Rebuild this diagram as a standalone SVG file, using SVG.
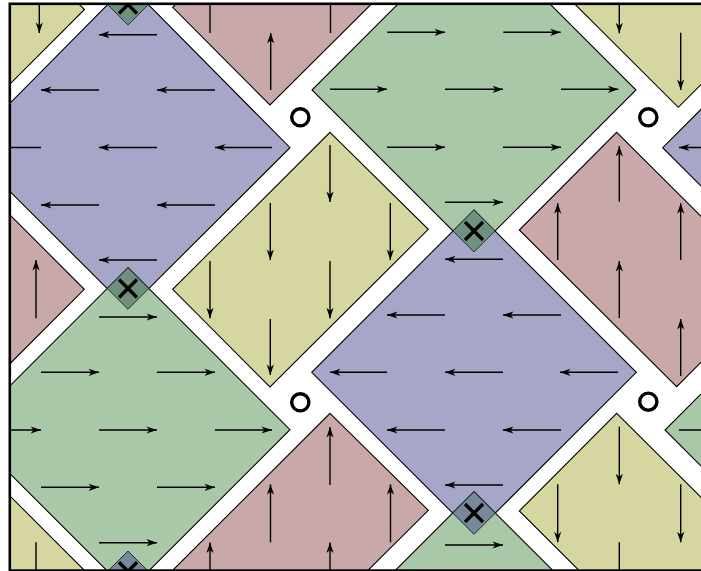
<svg xmlns="http://www.w3.org/2000/svg" width="701" height="571" viewBox="0 0 701 571">
<style>
.blue{fill:#a6a6c8}.green{fill:#a8c8a8}.yellow{fill:#d6d6a1}.red{fill:#c8a8a8}
.sh{stroke:#000;stroke-width:1.1;stroke-linejoin:miter}
.ar{stroke:#000;stroke-width:1.4;fill:none;marker-end:url(#ah)}
.mkg{fill:#6f8f7f;stroke:#1e3a2a;stroke-width:1}
.mkb{fill:#788898;stroke:#1e2a3a;stroke-width:1}
.xx{stroke:#000;stroke-width:3.4;fill:none}
.ring{fill:#fff;stroke:#000;stroke-width:3.4}
</style>
<defs>
<marker id="ah" viewBox="-11 -5 12 10" refX="0" refY="0" markerWidth="12" markerHeight="10" markerUnits="userSpaceOnUse" orient="auto">
<path d="M0,0 L-10.5,-3.6 L-7.5,0 L-10.5,3.6 Z" fill="#000"/>
</marker>
<clipPath id="frame"><rect x="9.8" y="3.8" width="720" height="566.8"/></clipPath>
</defs>
<rect width="701" height="571" fill="#fff"/>
<g clip-path="url(#frame)">
<g id="blueA">
<polygon class="blue sh" points="128,-16 290,147.7 128,309.3 -34,147.7"/>
<line class="ar" x1="157" y1="34.7" x2="99" y2="34.7"/>
<line class="ar" x1="99" y1="90" x2="41" y2="90"/>
<line class="ar" x1="215" y1="90" x2="157" y2="90"/>
<line class="ar" x1="41" y1="147.5" x2="-17" y2="147.5"/>
<line class="ar" x1="157" y1="147.5" x2="99" y2="147.5"/>
<line class="ar" x1="272" y1="147.5" x2="215" y2="147.5"/>
<line class="ar" x1="99" y1="205" x2="41" y2="205"/>
<line class="ar" x1="215" y1="205" x2="157" y2="205"/>
<line class="ar" x1="157" y1="260" x2="99" y2="260"/>
</g>
<g id="greenB">
<polygon class="green sh" points="128,267.7 290,429.7 128,591.7 -34,429.7"/>
<line class="ar" x1="99" y1="317" x2="157" y2="317"/>
<line class="ar" x1="41" y1="372.3" x2="99" y2="372.3"/>
<line class="ar" x1="157" y1="372.3" x2="215" y2="372.3"/>
<line class="ar" x1="-17" y1="430" x2="41" y2="430"/>
<line class="ar" x1="99" y1="430" x2="157" y2="430"/>
<line class="ar" x1="215" y1="430" x2="272" y2="430"/>
<line class="ar" x1="41" y1="487.3" x2="99" y2="487.3"/>
<line class="ar" x1="157" y1="487.3" x2="215" y2="487.3"/>
<line class="ar" x1="99" y1="542.7" x2="157" y2="542.7"/>
</g>
<g id="greenA">
<polygon class="green sh" points="474,-72 636,90 474,252 312,90"/>
<line class="ar" x1="387.3" y1="32.3" x2="445" y2="32.3"/>
<line class="ar" x1="503.3" y1="32.3" x2="560.7" y2="32.3"/>
<line class="ar" x1="330" y1="89.3" x2="387" y2="89.3"/>
<line class="ar" x1="445" y1="89.3" x2="503" y2="89.3"/>
<line class="ar" x1="561" y1="89.3" x2="618.3" y2="89.3"/>
<line class="ar" x1="387" y1="147.3" x2="445" y2="147.3"/>
<line class="ar" x1="503" y1="147.3" x2="561" y2="147.3"/>
<line class="ar" x1="445" y1="202.3" x2="503" y2="202.3"/>
</g>
<g id="blueB">
<polygon class="blue sh" points="474,210 636.3,372.3 474,534.3 311.7,372.3"/>
<line class="ar" x1="503" y1="259.3" x2="445" y2="259.3"/>
<line class="ar" x1="445" y1="315" x2="387" y2="315"/>
<line class="ar" x1="561" y1="315" x2="503" y2="315"/>
<line class="ar" x1="387" y1="372.3" x2="330" y2="372.3"/>
<line class="ar" x1="503" y1="372.3" x2="445" y2="372.3"/>
<line class="ar" x1="618" y1="372.3" x2="560" y2="372.3"/>
<line class="ar" x1="445" y1="430" x2="387" y2="430"/>
<line class="ar" x1="561" y1="430" x2="503" y2="430"/>
<line class="ar" x1="503" y1="485" x2="445" y2="485"/>
</g>
<g id="greenB2">
<polygon class="green sh" points="474,491.7 636,653.7 474,815.7 312,653.7"/>
<line class="ar" x1="445" y1="545" x2="503" y2="545"/>
</g>
<g id="blueC">
<polygon class="blue sh" points="824.7,-14.3 986.7,147.7 824.7,309.7 662.7,147.7"/>
<line class="ar" x1="738" y1="147.5" x2="679" y2="147.5"/>
</g>
<g id="greenC">
<polygon class="green sh" points="827,268 989,430 827,592 665,430"/>
<line class="ar" x1="679" y1="430" x2="737" y2="430"/>
</g>
<g id="yellowC">
<polygon class="yellow sh" points="330,132.3 428.3,229.3 270,387 172.7,289.3"/>
<line class="ar" x1="330" y1="145" x2="330" y2="202"/>
<line class="ar" x1="270.3" y1="203" x2="270.3" y2="260"/>
<line class="ar" x1="390.3" y1="203" x2="390.3" y2="260"/>
<line class="ar" x1="210" y1="261" x2="210" y2="318.3"/>
<line class="ar" x1="330" y1="261" x2="330" y2="318.3"/>
<line class="ar" x1="270.3" y1="319" x2="270.3" y2="375"/>
</g>
<g id="redD">
<polygon class="red sh" points="330,-149.7 428.3,-52.7 270,105 172.7,7.3"/>
<line class="ar" x1="210" y1="33" x2="210" y2="-24"/>
<line class="ar" x1="330.5" y1="33" x2="330.5" y2="-24"/>
<line class="ar" x1="270.7" y1="90" x2="270.7" y2="33"/>
</g>
<g id="redG">
<polygon class="red sh" points="330,413.3 428.3,510.3 270,668 172.7,570.3"/>
<line class="ar" x1="330" y1="485" x2="330" y2="427"/>
<line class="ar" x1="270.5" y1="542.3" x2="270.5" y2="484.3"/>
<line class="ar" x1="390.5" y1="542.3" x2="390.5" y2="484.3"/>
<line class="ar" x1="210" y1="600" x2="210" y2="542.5"/>
<line class="ar" x1="330" y1="600" x2="330" y2="542.5"/>
</g>
<g id="redH">
<polygon class="red sh" points="-72.7,132.3 84.3,289.3 -13.7,387.3 -170.7,230.3"/>
<line class="ar" x1="36" y1="318.3" x2="36" y2="260"/>
</g>
<g id="yellowI">
<polygon class="yellow sh" points="-72.5,-147.5 84.5,9.5 -13.5,107.5 -170.5,-49.5"/>
<line class="ar" x1="39.3" y1="-24" x2="39.3" y2="33"/>
</g>
<g id="yellowJ">
<polygon class="yellow sh" points="-72.7,413.3 84.3,570.3 -13.7,668.3 -170.7,511.3"/>
<line class="ar" x1="36" y1="542.3" x2="36" y2="600"/>
</g>
<g id="redE">
<polygon class="red sh" points="616.7,132.3 774.1,289 676.7,386.7 519.3,230"/>
<line class="ar" x1="619.3" y1="201.7" x2="619.3" y2="146"/>
<line class="ar" x1="557.7" y1="260" x2="557.7" y2="203.3"/>
<line class="ar" x1="680.7" y1="260" x2="680.7" y2="203.3"/>
<line class="ar" x1="619.3" y1="318" x2="619.3" y2="261"/>
<line class="ar" x1="680.7" y1="376" x2="680.7" y2="319"/>
</g>
<g id="yellowK">
<polygon class="yellow sh" points="618.3,-147.4 775.7,9.6 678.3,107.3 520.9,-49.7"/>
<line class="ar" x1="619.3" y1="-24" x2="619.3" y2="33.3"/>
<line class="ar" x1="680.7" y1="32.7" x2="680.7" y2="90"/>
</g>
<g id="yellowF">
<polygon class="yellow sh" points="616.7,413.3 774.1,570 676.7,667.7 519.3,511"/>
<line class="ar" x1="619.3" y1="426.7" x2="619.3" y2="484.3"/>
<line class="ar" x1="557.7" y1="484.3" x2="557.7" y2="542.3"/>
<line class="ar" x1="680.7" y1="484.3" x2="680.7" y2="542.3"/>
<line class="ar" x1="619.3" y1="542.3" x2="619.3" y2="600"/>
</g>
<g id="cross1">
<polygon class="mkg" points="128,-16 148.5,4.5 128,25 107.5,4.5"/>
<path class="xx" d="M119,-4.5 L137,13.5 M119,13.5 L137,-4.5"/>
</g>
<g id="cross2">
<polygon class="mkg" points="128,267.7 148.8,288.5 128,309.3 107.2,288.5"/>
<path class="xx" d="M119,279.5 L137,297.5 M119,297.5 L137,279.5"/>
</g>
<g id="cross3">
<polygon class="mkg" points="474,210 495,231 474,252 453,231"/>
<path class="xx" d="M465,222 L483,240 M465,240 L483,222"/>
</g>
<g id="cross4">
<polygon class="mkb" points="474,491.7 495.3,513 474,534.3 452.7,513"/>
<path class="xx" d="M465,504 L483,522 M465,522 L483,504"/>
</g>
<g id="cross5">
<polygon class="mkb" points="128,551 148.35,571.35 128,591.7 107.65,571.35"/>
<path class="xx" d="M119,562.3 L137,580.3 M119,580.3 L137,562.3"/>
</g>
<g id="ring1"><circle class="ring" cx="300.3" cy="117.3" r="8.6"/></g>
<g id="ring2"><circle class="ring" cx="648.3" cy="117.3" r="8.6"/></g>
<g id="ring3"><circle class="ring" cx="300.3" cy="402.3" r="8.6"/></g>
<g id="ring4"><circle class="ring" cx="648.3" cy="401.7" r="8.6"/></g>
</g>
<g id="connectors"/>
<rect x="9.8" y="3.8" width="720" height="566.8" fill="none" stroke="#000" stroke-width="2.6"/>
</svg>
